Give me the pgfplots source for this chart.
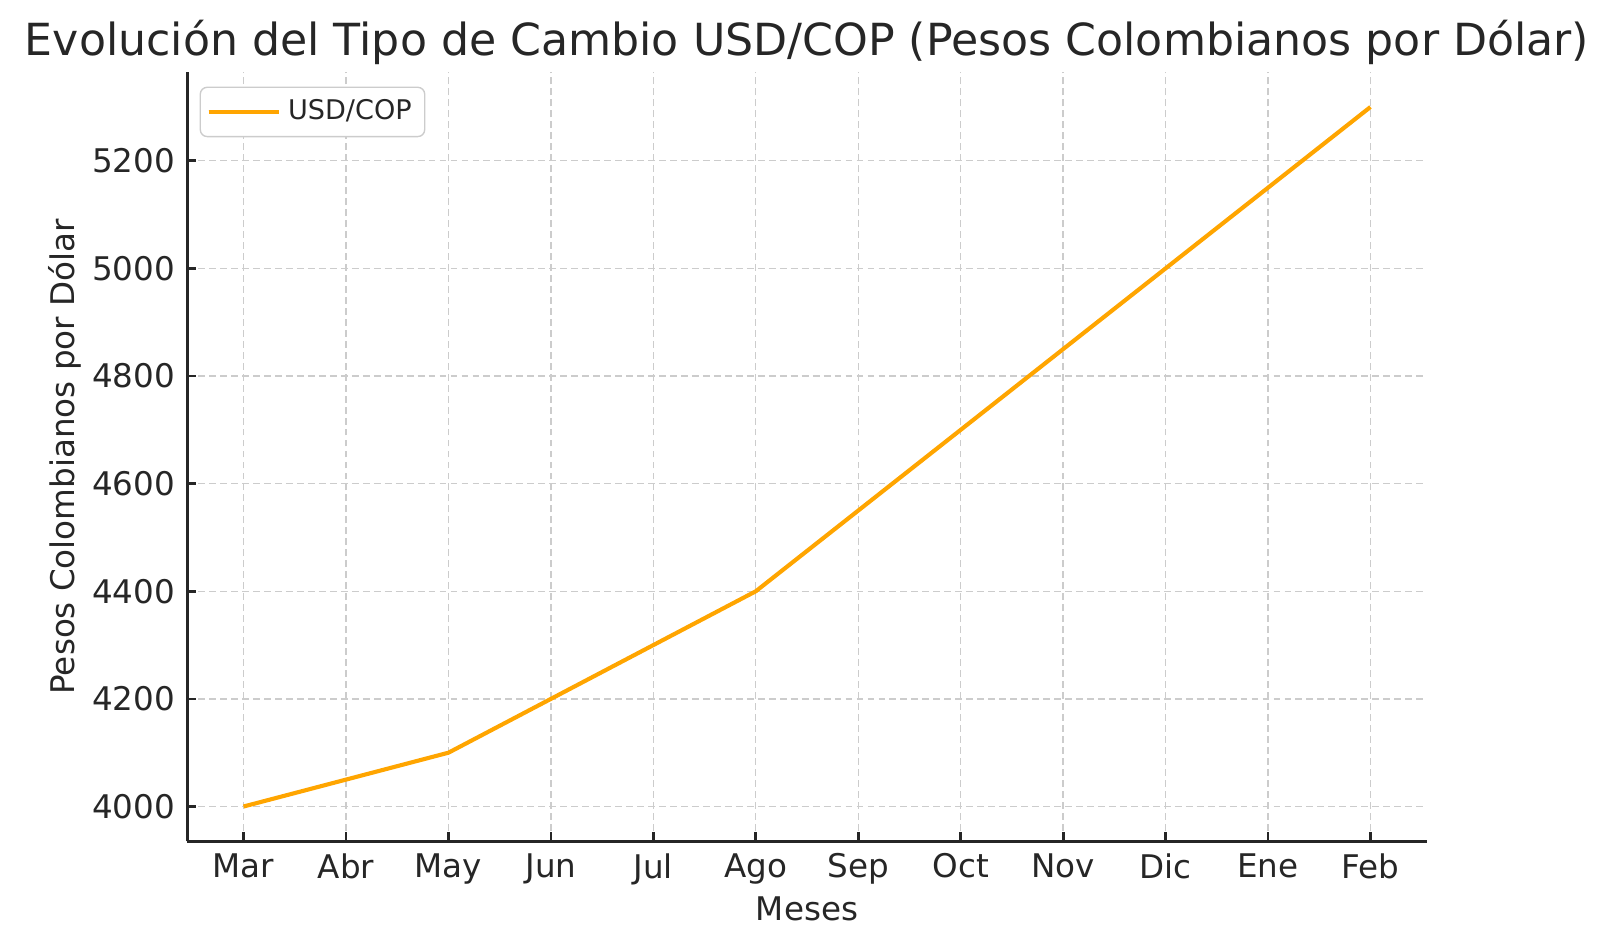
\documentclass[border=0pt]{standalone}
\usepackage{fontspec}
\setmainfont{DejaVu Sans}
\usepackage{pgfplots}
\pgfplotsset{compat=1.18}
\usetikzlibrary{calc}

\definecolor{txt}{RGB}{38,38,38}
\definecolor{gridc}{RGB}{204,204,204}
\definecolor{lineorange}{RGB}{255,165,0}

\begin{document}
\begin{tikzpicture}
\begin{axis}[
    scale only axis,
    width=361.5pt,
    height=224.4pt,
    xmin=-0.55, xmax=11.55,
    ymin=3935, ymax=5365,
    axis x line*=bottom,
    axis y line*=left,
    axis line style={line width=0.9pt, color=txt},
    tick align=inside,
    major tick length=2.7pt,
    tick style={line width=0.8pt, color=txt},
    xtick={0,...,11},
    xticklabels={Mar,Abr,May,Jun,Jul,Ago,Sep,Oct,Nov,Dic,Ene,Feb},
    ytick={4000,4200,4400,4600,4800,5000,5200},
    /pgf/number format/assume math mode=true,
    /pgf/number format/1000 sep={},
    tick label style={font=\fontsize{9.5}{11}\selectfont, color=txt},
    grid=major,
    major grid style={gridc, line width=0.4pt, dash pattern=on 2pt off 1.2pt},
    xlabel={Meses},
    xlabel style={font=\fontsize{9.5}{11}\selectfont, color=txt,
        at={(axis description cs:0.5,-0.1029)}, anchor=base},
    ylabel={Pesos Colombianos por Dólar},
    ylabel style={font=\fontsize{9.5}{11}\selectfont, color=txt,
        at={(axis description cs:-0.0913,0.5)}, anchor=base},
    legend style={at={(axis description cs:0.01,0.981)}, anchor=north west,
        draw=gridc, rounded corners=2pt, fill=white,
        font=\fontsize{7.9}{9}\selectfont, text=txt,
        inner xsep=1.8pt, inner ysep=1.5pt},
    legend cell align=left,
    legend image code/.code={
        \draw[#1] (0pt,0pt) -- (17pt,0pt);
        \path (0pt,0pt) -- (20.6pt,0pt);},
    clip=false,
]
\addplot[lineorange, line width=1.2pt] coordinates {
    (0,4000) (1,4050) (2,4100) (3,4200) (4,4300) (5,4400)
    (6,4550) (7,4700) (8,4850) (9,5000) (10,5150) (11,5300)
};
\addlegendentry{USD/COP}
\node[anchor=base, font=\fontsize{12.9}{15}\selectfont, text=txt]
    at (axis description cs:0.5,1.0218)
    {Evolución del Tipo de Cambio USD/COP (Pesos Colombianos por Dólar)};
\coordinate (sw) at (rel axis cs:0,0);
\end{axis}
\pgfresetboundingbox
\path[use as bounding box] ($(sw)+(-54.6pt,-31.2pt)$) rectangle +(470.4pt,276.6pt);
\end{tikzpicture}
\end{document}
